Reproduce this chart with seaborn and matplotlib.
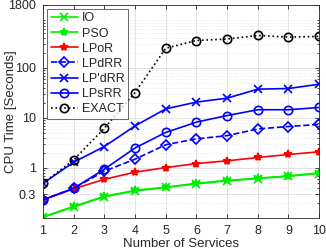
import numpy as np
import pandas as pd
import matplotlib
matplotlib.use("Agg")
import matplotlib.pyplot as plt
import seaborn as sns
from matplotlib.ticker import FixedLocator, NullFormatter, LogLocator

services = [1, 2, 3, 4, 5, 6, 7, 8, 9, 10]

io_time = [0.103, 0.165, 0.265, 0.345, 0.405, 0.48, 0.55, 0.61, 0.68, 0.77]
pso_time = [0.105, 0.17, 0.27, 0.355, 0.41, 0.49, 0.56, 0.62, 0.69, 0.79]
lpor_time = [0.23, 0.38, 0.59, 0.82, 1.01, 1.22, 1.38, 1.61, 1.85, 2.09]
lpdrr_time = [0.23, 0.39, 0.86, 1.49, 2.9, 3.8, 4.4, 6.0, 6.7, 7.4]
lpprimedrr_time = [0.49, 1.3, 2.67, 6.9, 15.1, 20.6, 24.7, 37.4, 38.5, 47.0]
lpsrr_time = [0.23, 0.39, 0.94, 2.5, 5.1, 8.2, 11.1, 14.5, 14.5, 16.1]
exact_time = [0.49, 1.45, 6.2, 32.0, 246.0, 351.0, 375.0, 443.0, 411.0, 423.0]

series = {
    "IO": io_time,
    "PSO": pso_time,
    "LPoR": lpor_time,
    "LPdRR": lpdrr_time,
    "LP'dRR": lpprimedrr_time,
    "LPsRR": lpsrr_time,
    "EXACT": exact_time,
}

styles = {
    "IO": dict(color="#00ee00", marker="x", linestyle="-", mfc="none"),
    "PSO": dict(color="#00ee00", marker="*", linestyle="-", mfc="#00ee00"),
    "LPoR": dict(color="#ff0000", marker="*", linestyle="-", mfc="#ff0000"),
    "LPdRR": dict(color="#0000ff", marker="D", linestyle="--", mfc="none", markersize=5),
    "LP'dRR": dict(color="#0000ff", marker="x", linestyle="-", mfc="none"),
    "LPsRR": dict(color="#0000ff", marker="o", linestyle="-", mfc="none"),
    "EXACT": dict(color="#000000", marker="o", linestyle=":", mfc="none"),
}

sns.set_style("ticks")
plt.rcParams["font.family"] = ["Liberation Sans", "DejaVu Sans"]

fig = plt.figure(figsize=(3.26, 2.49), dpi=100)
ax = fig.add_axes([0.132, 0.125, 0.847, 0.855])

for name, vals in series.items():
    st = dict(styles[name])
    ms = st.pop("markersize", 6)
    df = pd.DataFrame({"x": services, "y": vals})
    sns.lineplot(data=df, x="x", y="y", ax=ax, label=name,
                 color=st["color"], marker=st["marker"], linestyle=st["linestyle"],
                 markerfacecolor=st["mfc"], markeredgecolor=st["color"],
                 markersize=ms, markeredgewidth=1.2, linewidth=1.2)

ax.set_yscale("log")
ax.set_xlim(1, 10)
ax.set_ylim(0.1, 1800)
ax.set_xticks(services)
ax.set_xticklabels([str(s) for s in services])
ax.yaxis.set_major_locator(FixedLocator([0.3, 1, 10, 100, 1800]))
ax.set_yticklabels(["0.3", "1", "10", "100", "1800"])
ax.yaxis.set_minor_locator(LogLocator(base=10, subs=np.arange(2, 10)))
ax.yaxis.set_minor_formatter(NullFormatter())

ax.grid(True, which="major", color="#dddddd", linewidth=0.6)
ax.grid(True, which="minor", axis="y", color="#e6e6e6", linestyle=":", linewidth=0.6)
ax.tick_params(which="both", direction="in", top=True, right=True, labelsize=9,
               length=3, width=0.6, colors="#262626", pad=5)
ax.tick_params(which="minor", length=1.5)
for sp in ax.spines.values():
    sp.set_color("#262626")
    sp.set_linewidth(0.6)

ax.set_xlabel("Number of Services", fontsize=9.5, labelpad=1)
ax.set_ylabel("CPU Time [Seconds]", fontsize=9.5)
ax.yaxis.set_label_coords(-0.095, 0.5)

leg = ax.legend(loc="upper left", fontsize=9, frameon=True, fancybox=False,
                borderpad=0.3, labelspacing=0.25, handlelength=2.2, handletextpad=0.3,
                borderaxespad=0.3)
leg.get_frame().set_edgecolor("#262626")
leg.get_frame().set_linewidth(0.6)

fig.savefig("out.png", dpi=100)
